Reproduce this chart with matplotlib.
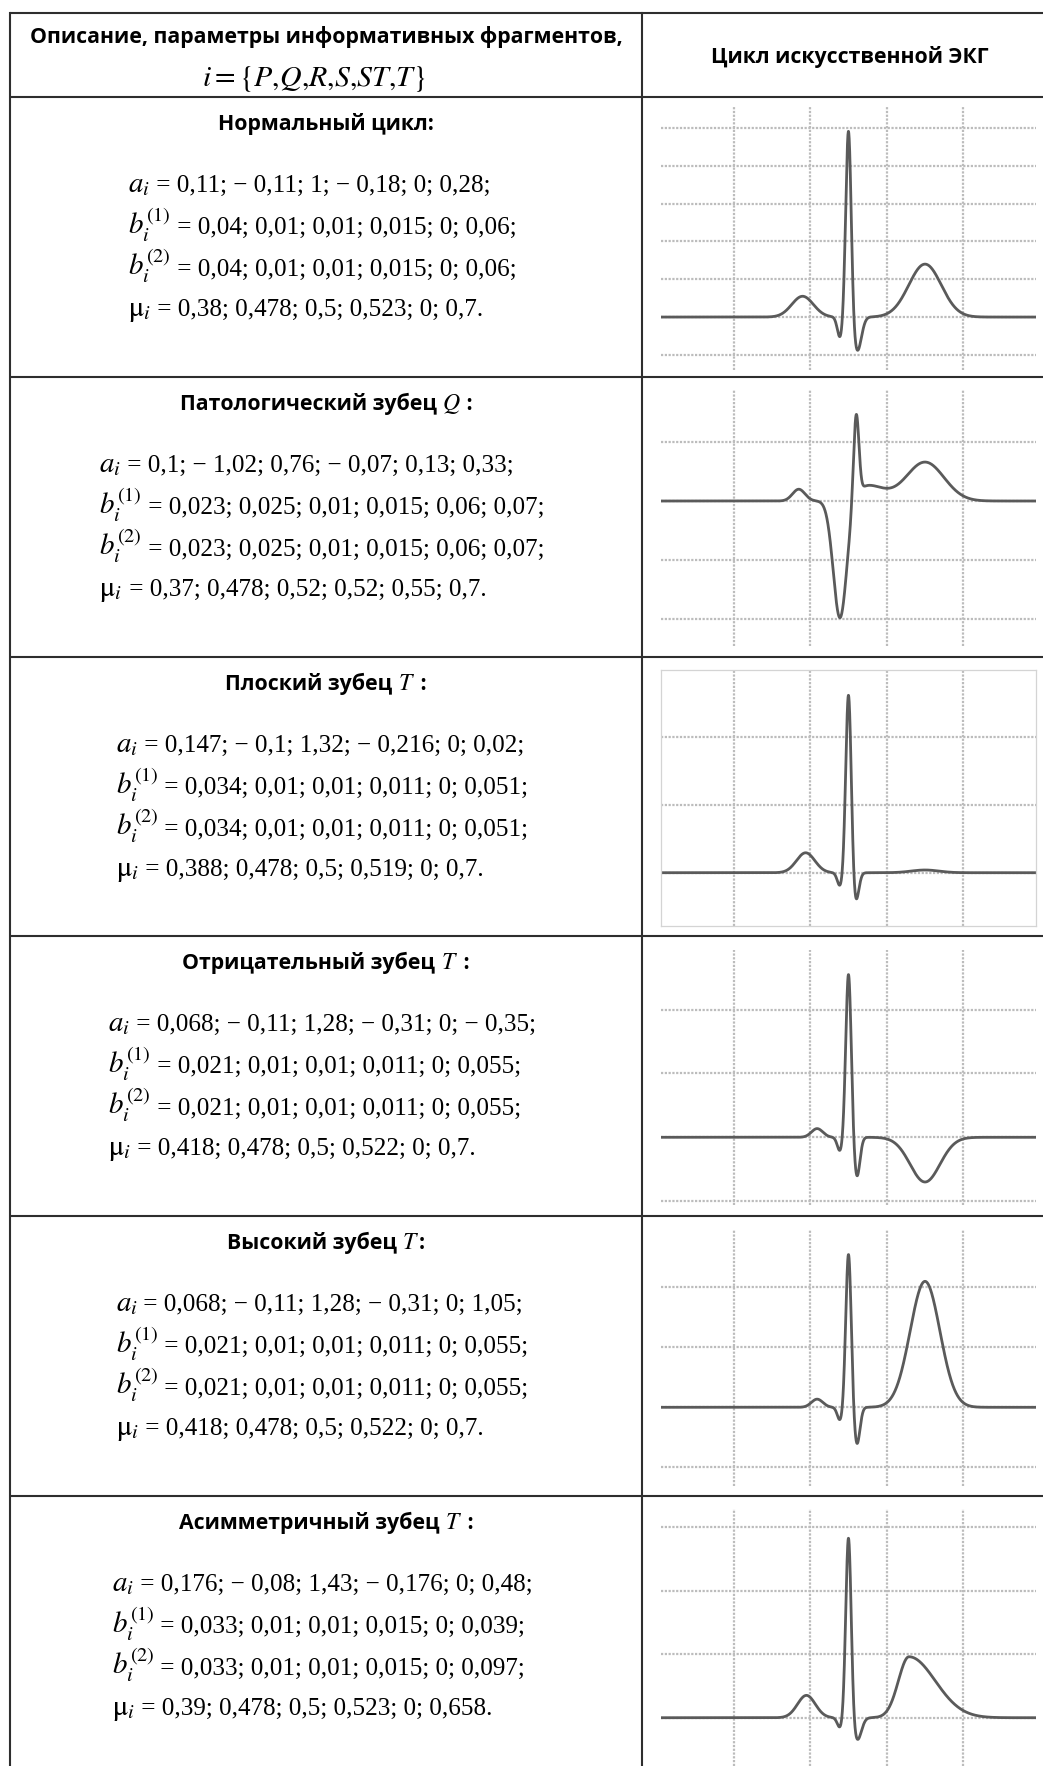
import numpy as np
import matplotlib
matplotlib.use("Agg")
import matplotlib.pyplot as plt

# ---------------- data ----------------
row_title_text = ["Нормальный цикл:",
                  "Патологический зубец ",
                  "Плоский зубец ",
                  "Отрицательный зубец ",
                  "Высокий зубец ",
                  "Асимметричный зубец "]
row_title_symbol = ["", "Q", "T", "T", "T", "T"]
row_title_end = ["", " :", " :", " :", ":", " :"]
# order of fragments: P, Q, R, S, ST, T
a_params = [[0.11, -0.11, 1, -0.18, 0, 0.28],
            [0.1, -1.02, 0.76, -0.07, 0.13, 0.33],
            [0.147, -0.1, 1.32, -0.216, 0, 0.02],
            [0.068, -0.11, 1.28, -0.31, 0, -0.35],
            [0.068, -0.11, 1.28, -0.31, 0, 1.05],
            [0.176, -0.08, 1.43, -0.176, 0, 0.48]]
b1_params = [[0.04, 0.01, 0.01, 0.015, 0, 0.06],
             [0.023, 0.025, 0.01, 0.015, 0.06, 0.07],
             [0.034, 0.01, 0.01, 0.011, 0, 0.051],
             [0.021, 0.01, 0.01, 0.011, 0, 0.055],
             [0.021, 0.01, 0.01, 0.011, 0, 0.055],
             [0.033, 0.01, 0.01, 0.015, 0, 0.039]]
b2_params = [[0.04, 0.01, 0.01, 0.015, 0, 0.06],
             [0.023, 0.025, 0.01, 0.015, 0.06, 0.07],
             [0.034, 0.01, 0.01, 0.011, 0, 0.051],
             [0.021, 0.01, 0.01, 0.011, 0, 0.055],
             [0.021, 0.01, 0.01, 0.011, 0, 0.055],
             [0.033, 0.01, 0.01, 0.015, 0, 0.097]]
mu_params = [[0.38, 0.478, 0.5, 0.523, 0, 0.7],
             [0.37, 0.478, 0.52, 0.52, 0.55, 0.7],
             [0.388, 0.478, 0.5, 0.519, 0, 0.7],
             [0.418, 0.478, 0.5, 0.522, 0, 0.7],
             [0.418, 0.478, 0.5, 0.522, 0, 0.7],
             [0.39, 0.478, 0.5, 0.523, 0, 0.658]]
header_left_1 = "Описание, параметры информативных фрагментов,"
header_left_2 = r"$i=\{P{,}Q{,}R{,}S{,}ST{,}T\}$"
header_right = "Цикл искусственной ЭКГ"

# ---------------- layout ----------------
W, H = 1043, 1766
plt.rcParams["mathtext.fontset"] = "stix"
fig = plt.figure(figsize=(W / 100, H / 100), dpi=100)
ax = fig.add_axes([0, 0, 1, 1])
ax.set_xlim(0, W)
ax.set_ylim(H, 0)
ax.axis("off")
renderer = fig.canvas.get_renderer()

LINE_C = "#2e2e2e"
x_left, x_div = 10, 642
y_top = 13
row_tops = [97, 377, 657, 936, 1216, 1496]

ax.plot([x_left, W], [y_top, y_top], color=LINE_C, lw=1.5, solid_capstyle="butt")
for yt in row_tops:
    ax.plot([x_left, W], [yt, yt], color=LINE_C, lw=1.5, solid_capstyle="butt")
ax.plot([x_left, x_left], [y_top, H], color=LINE_C, lw=1.5)
ax.plot([x_div, x_div], [y_top, H], color=LINE_C, lw=1.5)


def width_of(s, size, **kw):
    t = ax.text(0, 100, s, fontsize=size, **kw)
    w = t.get_window_extent(renderer).width
    t.remove()
    return w


BOLD = dict(family="Open Sans", weight="bold")
SERIF = dict(family="Liberation Serif")
PREFIX_SCALE = 1.15

bold_size = 10 * 595 / width_of(header_left_1, 10, **BOLD)


def fmt(v):
    s = f"{v:g}".replace(".", ",")
    if s.startswith("-"):
        s = "− " + s[1:]
    return s


def rest(vals, end):
    return " = " + "; ".join(fmt(v) for v in vals) + end


prefixes = [r"$a_i$", r"$b_i^{(1)}$", r"$b_i^{(2)}$", r"$\mathrm{\mu}_i$"]
formula_rests = []
for k in range(6):
    formula_rests.append([rest(a_params[k], ";"), rest(b1_params[k], ";"),
                          rest(b2_params[k], ";"), rest(mu_params[k], ".")])


def line_width(j, s_rest, size):
    return (width_of(prefixes[j], size * PREFIX_SCALE, **SERIF)
            + width_of(s_rest, size, **SERIF))


form_size = 10 * 389 / line_width(2, formula_rests[0][2], 10)
hdr2_size = 10 * 226 / width_of(header_left_2, 10, **SERIF)


def pieces_centered(cx, y, pieces):
    widths = [width_of(s, sz, **pr) if s else 0 for s, sz, pr in pieces]
    x = cx - sum(widths) / 2
    for (s, sz, pr), w in zip(pieces, widths):
        if s:
            ax.text(x, y, s, fontsize=sz, ha="left", va="baseline", **pr)
        x += w


# header
cx_left = (x_left + x_div) / 2
ax.text(cx_left, 43, header_left_1, fontsize=bold_size, ha="center", va="baseline", **BOLD)
ax.text(314, 86, header_left_2, fontsize=hdr2_size, ha="center", va="baseline", **SERIF)
ax.text(850, 63, header_right, fontsize=bold_size, ha="center", va="baseline", **BOLD)

# left column text
base_offsets = [95, 137, 178.5, 219]
for k, top in enumerate(row_tops):
    sym = row_title_symbol[k]
    pieces_centered(cx_left, top + 33,
                    [(row_title_text[k], bold_size, BOLD),
                     (f"${sym}$" if sym else "", bold_size * 1.12, SERIF),
                     (row_title_end[k], bold_size, BOLD)])
    ws = [line_width(j, s, form_size) for j, s in enumerate(formula_rests[k])]
    xl = 322 - max(ws) / 2
    for j, (s, off) in enumerate(zip(formula_rests[k], base_offsets)):
        pw = width_of(prefixes[j], form_size * PREFIX_SCALE, **SERIF)
        ax.text(xl, top + off, prefixes[j], fontsize=form_size * PREFIX_SCALE,
                ha="left", va="baseline", **SERIF)
        ax.text(xl + pw, top + off, s, fontsize=form_size, ha="left",
                va="baseline", **SERIF)


# ---------------- ECG panels ----------------
def ecg(t, a, b1, b2, mu):
    y = np.zeros_like(t)
    for ai, bl, br, m in zip(a, b1, b2, mu):
        if bl == 0 or br == 0:
            continue
        b = np.where(t < m, bl, br)
        y += ai * np.exp(-((t - m) ** 2) / b ** 2)
    return y


panel_px = [(661, 1036, 107, 370), (661, 1036, 390, 646), (661, 1036, 670, 926),
            (661, 1036, 950, 1205), (661, 1036, 1230, 1486), (661, 1036, 1509, 1766)]
panel_ylim = [(-0.280, 1.111), (-1.229, 0.941), (-0.393, 1.495),
              (-0.530, 1.466), (-0.656, 1.478), (-0.380, 1.643)]
panel_ystep = [0.2, 0.5, 0.5, 0.5, 0.5, 0.5]

t = np.linspace(0.01, 0.99, 3000)
for k in range(6):
    x0, x1, y0, y1 = panel_px[k]
    pax = fig.add_axes([x0 / W, 1 - y1 / H, (x1 - x0) / W, (y1 - y0) / H])
    pax.set_xlim(0.01, 0.99)
    pax.set_ylim(*panel_ylim[k])
    st = panel_ystep[k]
    lo, hi = panel_ylim[k]
    yt = np.arange(np.ceil(lo / st) * st, hi, st)
    pax.set_yticks(yt)
    pax.set_xticks([0.2, 0.4, 0.6, 0.8])
    pax.tick_params(length=0, labelleft=False, labelbottom=False)
    pax.grid(True, color="#bcbcbc", lw=1.6, linestyle=(0, (1.0, 0.7)))
    pax.set_axisbelow(True)
    for sp in pax.spines.values():
        if k == 2:
            sp.set_color("#d4d4d4")
            sp.set_linewidth(0.9)
        else:
            sp.set_visible(False)
    pax.plot(t, ecg(t, a_params[k], b1_params[k], b2_params[k], mu_params[k]),
             color="#5a5a5a", lw=2.0)

fig.savefig("out.png", dpi=100)
